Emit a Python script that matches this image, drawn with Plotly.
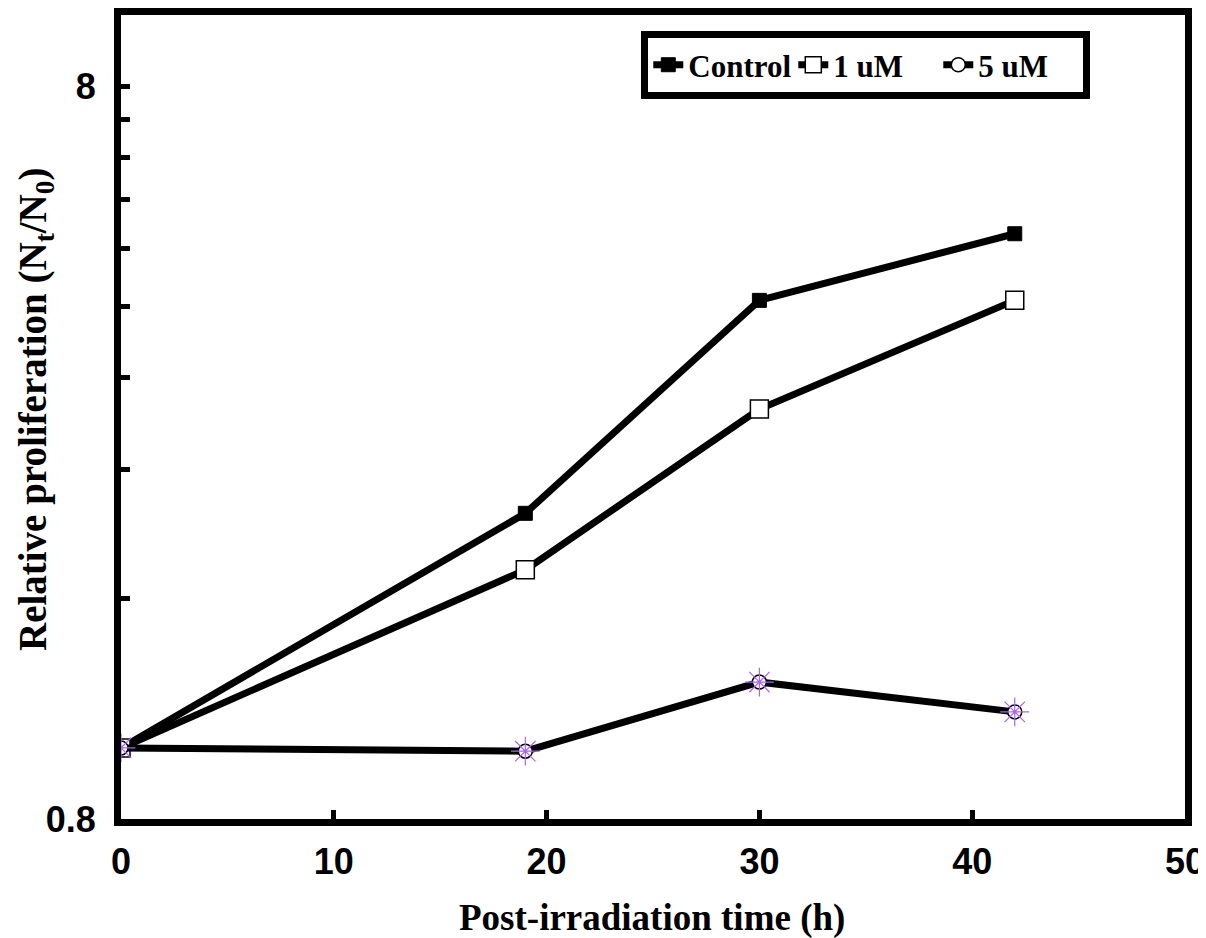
import plotly.graph_objects as go

time_h = [0, 19, 30, 42]
control = [1.0, 2.09, 4.08, 5.03]
uM1 = [1.0, 1.75, 2.90, 4.08]
uM5 = [1.0, 0.99, 1.23, 1.12]

y_tickvals = [0.8, 1.6, 2.4, 3.2, 4.0, 4.8, 5.6, 6.4, 7.2, 8.0]
y_ticktext = ["0.8", "", "", "", "", "", "", "", "", "8"]
x_tickvals = [0, 10, 20, 30, 40, 50]

fig = go.Figure()
fig.add_trace(go.Scatter(x=time_h, y=control, mode="lines+markers", name="Control",
                         line=dict(color="black", width=7),
                         marker=dict(symbol="square", size=14, color="black",
                                     line=dict(color="black", width=1))))
fig.add_trace(go.Scatter(x=time_h, y=uM1, mode="lines+markers", name="1 uM",
                         line=dict(color="black", width=7),
                         marker=dict(symbol="square", size=18, color="white",
                                     line=dict(color="black", width=1.5))))
fig.add_trace(go.Scatter(x=time_h, y=uM5, mode="lines+markers", name="5 uM",
                         line=dict(color="black", width=7),
                         marker=dict(symbol="circle", size=14, color="white",
                                     line=dict(color="black", width=1.5))))
fig.add_trace(go.Scatter(x=time_h, y=uM5, mode="markers", showlegend=False,
                         marker=dict(symbol="asterisk-open", size=24,
                                     line=dict(color="#6a2a7a", width=1.2))))

fig.update_layout(
    width=1198, height=930,
    paper_bgcolor="white", plot_bgcolor="white",
    margin=dict(l=113, r=21, t=7, b=119, autoexpand=False),
    showlegend=True,
    legend=dict(orientation="h", x=0.489, y=0.98, xanchor="left", yanchor="top",
                bordercolor="black", borderwidth=7, bgcolor="white",
                font=dict(family="Liberation Serif", size=31, color="black", weight="bold"),
                itemwidth=30, entrywidth=100, entrywidthmode="pixels", tracegroupgap=0),
    font=dict(family="Liberation Sans", color="black"),
    annotations=[
        dict(text="<b>Post-irradiation time (h)</b>", xref="paper", yref="paper",
             x=0.499, y=-0.123, xanchor="center", yanchor="middle", showarrow=False,
             font=dict(family="Liberation Serif", size=37, color="black")),
        dict(text="<b>Relative proliferation (N<sub>t</sub>/N<sub>0</sub>)</b>",
             xref="paper", yref="paper", x=-0.0808, y=0.5087, textangle=-90,
             xanchor="center", yanchor="middle", showarrow=False,
             font=dict(family="Liberation Serif", size=39, color="black")),
    ],
)
fig.update_xaxes(range=[0, 50], tickvals=x_tickvals, ticks="inside", ticklen=9,
                 tickwidth=5, tickcolor="black", showline=True, linewidth=7,
                 linecolor="black", mirror=True, showgrid=False, zeroline=False,
                 automargin=False,
                 tickfont=dict(family="Liberation Sans", size=36, color="black", weight="bold"),
                 ticklabelstandoff=5)
fig.update_yaxes(type="log", range=[-0.09691, 1.0], tickvals=y_tickvals,
                 ticktext=y_ticktext, ticks="inside", ticklen=9, tickwidth=5,
                 tickcolor="black", showline=True, linewidth=7, linecolor="black",
                 mirror=True, showgrid=False, zeroline=False,
                 automargin=False,
                 tickfont=dict(family="Liberation Sans", size=36, color="black", weight="bold"),
                 ticklabelstandoff=11)

fig.write_html("out.html")
